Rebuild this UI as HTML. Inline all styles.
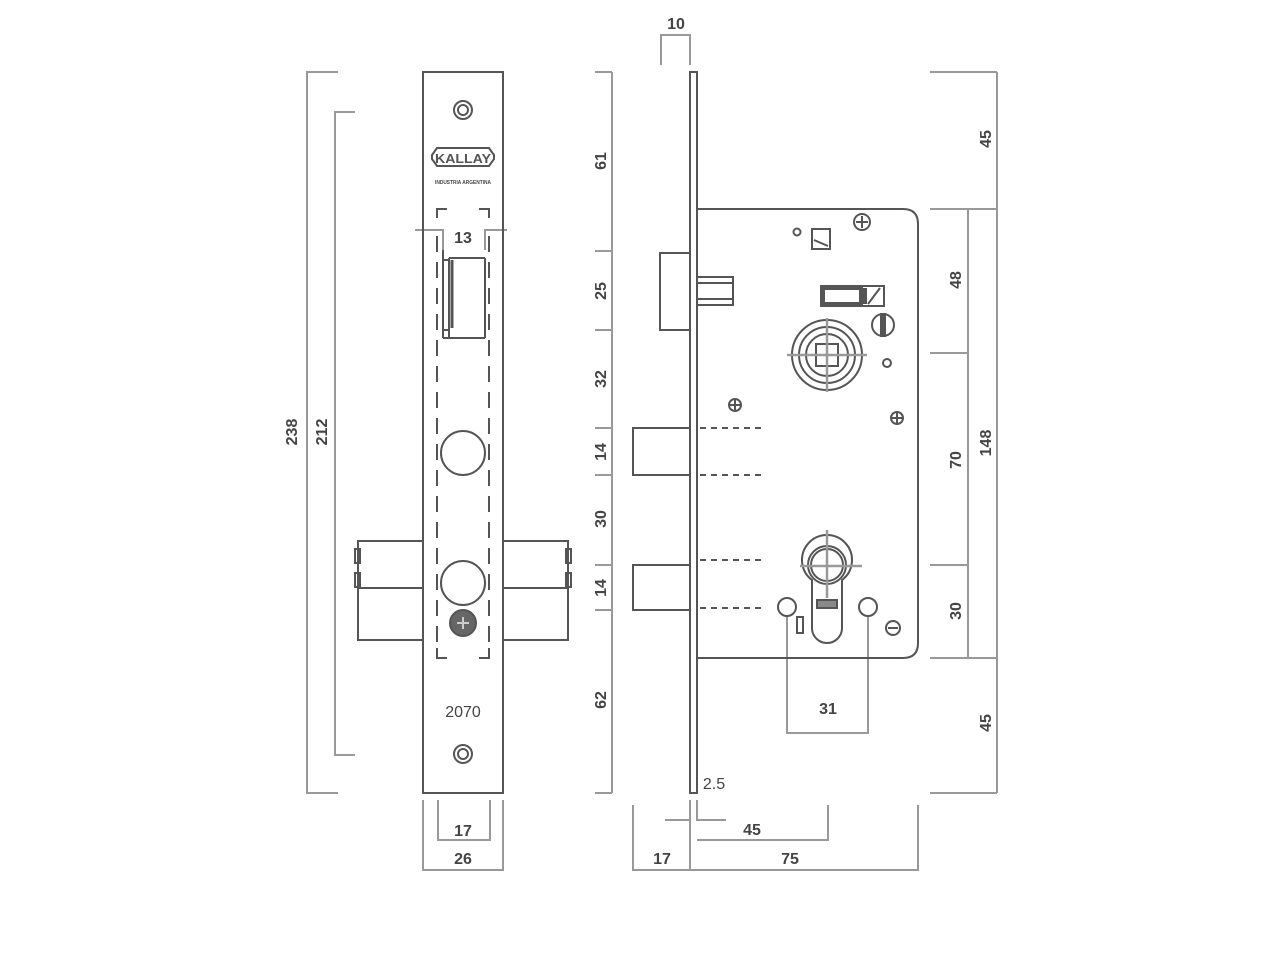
<!DOCTYPE html>
<html><head><meta charset="utf-8"><style>
html,body{margin:0;padding:0;background:#fff;}
svg{display:block;}
text{font-family:"Liberation Sans",sans-serif;font-weight:bold;fill:#444;font-size:16px;}
</style></head><body>
<svg width="1280" height="960" viewBox="0 0 1280 960" xmlns="http://www.w3.org/2000/svg">
<g fill="none" stroke="#999" stroke-width="2">
<polyline points="338,72 307,72 307,793 338,793"/>
<polyline points="355,112 335,112 335,755 355,755"/>
<polyline points="438,800 438,840 490,840 490,800"/>
<polyline points="423,800 423,870 503,870 503,800"/>
<polyline points="415,230 443,230 443,250"/><polyline points="507,230 485,230 485,250"/>
<polyline points="661,65 661,35 690,35 690,65"/>
<line x1="612" y1="72" x2="612" y2="793"/>
<line x1="595" y1="72" x2="612" y2="72"/><line x1="595" y1="251" x2="612" y2="251"/><line x1="595" y1="330" x2="612" y2="330"/><line x1="595" y1="428" x2="612" y2="428"/><line x1="595" y1="475" x2="612" y2="475"/><line x1="595" y1="565" x2="612" y2="565"/><line x1="595" y1="610" x2="612" y2="610"/><line x1="595" y1="793" x2="612" y2="793"/>
<line x1="997" y1="72" x2="997" y2="793"/>
<line x1="930" y1="72" x2="997" y2="72"/><line x1="930" y1="209" x2="997" y2="209"/><line x1="930" y1="658" x2="997" y2="658"/><line x1="930" y1="793" x2="997" y2="793"/>
<line x1="968" y1="209" x2="968" y2="658"/>
<line x1="930" y1="353" x2="968" y2="353"/><line x1="930" y1="565" x2="968" y2="565"/>
<polyline points="697,800 697,820 726,820"/><line x1="665" y1="820" x2="690" y2="820"/>
<polyline points="697,840 828,840 828,805"/>
<line x1="690" y1="800" x2="690" y2="870"/>
<polyline points="633,805 633,870 918,870 918,805"/>
<polyline points="787,616 787,733 868,733 868,616"/>
</g>
<g fill="none" stroke="#555" stroke-width="2">
<rect x="423" y="72" width="80" height="721"/>
<circle cx="463" cy="110" r="9"/><circle cx="463" cy="110" r="5"/>
<circle cx="463" cy="754" r="9"/><circle cx="463" cy="754" r="5"/>
<path d="M432,155 l5,-7 h52 l5,7 v4 l-5,7 h-52 l-5,-7 z"/>
<path d="M437,218 v-9 h10 M479,209 h10 v9" />
<line x1="437" y1="236" x2="437" y2="644" stroke-dasharray="16,10"/>
<line x1="489" y1="236" x2="489" y2="644" stroke-dasharray="16,10"/>
<path d="M437,648 v10 h10 M479,658 h10 v-10"/>
<path d="M443,250 v10 M443,260 h6 v-2 M449,258 v80 M443,338 h42 M449,330 h-6 M443,260 v78 M485,258 v80 M479,258 h6 M449,258 h30"/>
<line x1="452" y1="260" x2="452" y2="328" stroke-width="3"/>
<circle cx="463" cy="453" r="22"/>
<circle cx="463" cy="583" r="22"/>
<circle cx="463" cy="623" r="13" fill="#666"/>
<path d="M457,623h12M463,617v12" stroke="#ccc"/>
<rect x="358" y="541" width="65" height="99"/>
<line x1="358" y1="588" x2="423" y2="588"/>
<rect x="355" y="549" width="5" height="14"/><rect x="355" y="573" width="5" height="14"/>
<rect x="503" y="541" width="65" height="99"/>
<line x1="503" y1="588" x2="568" y2="588"/>
<rect x="566" y="549" width="5" height="14"/><rect x="566" y="573" width="5" height="14"/>
<rect x="690" y="72" width="7" height="721"/>
<path d="M697,209 H903 Q918,209 918,224 V643 Q918,658 903,658 H697"/>
<rect x="660" y="253" width="30" height="77"/>
<rect x="697" y="277" width="36" height="28"/>
<line x1="697" y1="283" x2="733" y2="283"/><line x1="697" y1="299" x2="733" y2="299"/>
<rect x="633" y="428" width="57" height="47"/>
<rect x="633" y="565" width="57" height="45"/>
</g>
<g stroke="#555" stroke-width="2" stroke-dasharray="6,5" fill="none">
<line x1="700" y1="428" x2="765" y2="428"/><line x1="700" y1="475" x2="765" y2="475"/>
<line x1="700" y1="560" x2="765" y2="560"/><line x1="700" y1="608" x2="765" y2="608"/>
</g>
<g fill="none" stroke="#555" stroke-width="2">
<circle cx="797" cy="232" r="3.5"/>
<rect x="812" y="229" width="18" height="20"/><line x1="814" y1="240" x2="828" y2="246"/>
<circle cx="862" cy="222" r="8"/><path d="M856,222h12M862,216v12"/>
<rect x="821" y="286" width="63" height="20"/><rect x="823" y="288" width="38" height="16" fill="#fff" stroke-width="4"/>
<rect x="861" y="288" width="6" height="16" fill="#555" stroke="none"/>
<line x1="868" y1="304" x2="880" y2="288"/>
<circle cx="883" cy="325" r="11"/><rect x="881" y="314" width="4" height="22" fill="#555"/>
<circle cx="887" cy="363" r="4"/>
<circle cx="827" cy="355" r="35"/><circle cx="827" cy="355" r="28"/><circle cx="827" cy="355" r="21"/>
<rect x="816" y="344" width="22" height="22"/>
<circle cx="735" cy="405" r="6"/><path d="M730,405h10M735,400v10"/>
<circle cx="897" cy="418" r="6"/><path d="M892,418h10M897,413v10"/>
<path d="M812,580 A25,25 0 1 1 842,580 V628 A15,15 0 0 1 812,628 Z"/>
<circle cx="827" cy="565" r="19"/><circle cx="827" cy="565" r="16"/>
<circle cx="787" cy="607" r="9"/><circle cx="868" cy="607" r="9"/>
<rect x="797" y="617" width="6" height="16"/>
<circle cx="893" cy="628" r="7"/><path d="M888,628h10"/>
<rect x="817" y="600" width="20" height="8" fill="#888"/>
</g>
<g stroke="#999" stroke-width="2.5">
<line x1="787" y1="355" x2="867" y2="355"/><line x1="827" y1="318" x2="827" y2="392"/>
<line x1="800" y1="566" x2="862" y2="566"/><line x1="827" y1="530" x2="827" y2="598"/>
</g>
<text x="463" y="163" text-anchor="middle" textLength="56" lengthAdjust="spacingAndGlyphs" style="font-size:13px;fill:#555">KALLAY</text>
<text x="463" y="184" text-anchor="middle" textLength="56" lengthAdjust="spacingAndGlyphs" style="font-size:5px">INDUSTRIA ARGENTINA</text>
<text x="463" y="243" text-anchor="middle">13</text>
<text x="463" y="717" text-anchor="middle" style="font-weight:normal">2070</text>
<text x="463" y="836" text-anchor="middle">17</text>
<text x="463" y="864" text-anchor="middle">26</text>
<text x="676" y="29" text-anchor="middle">10</text>
<text x="714" y="789" text-anchor="middle" style="font-weight:normal">2.5</text>
<text x="752" y="835" text-anchor="middle">45</text>
<text x="662" y="864" text-anchor="middle">17</text>
<text x="790" y="864" text-anchor="middle">75</text>
<text x="828" y="714" text-anchor="middle">31</text>
<g text-anchor="middle">
<text transform="translate(297,432) rotate(-90)">238</text>
<text transform="translate(327,432) rotate(-90)">212</text>
<text transform="translate(606,161) rotate(-90)">61</text>
<text transform="translate(606,291) rotate(-90)">25</text>
<text transform="translate(606,379) rotate(-90)">32</text>
<text transform="translate(606,452) rotate(-90)">14</text>
<text transform="translate(606,519) rotate(-90)">30</text>
<text transform="translate(606,588) rotate(-90)">14</text>
<text transform="translate(606,700) rotate(-90)">62</text>
<text transform="translate(991,139) rotate(-90)">45</text>
<text transform="translate(991,723) rotate(-90)">45</text>
<text transform="translate(961,280) rotate(-90)">48</text>
<text transform="translate(961,460) rotate(-90)">70</text>
<text transform="translate(961,611) rotate(-90)">30</text>
<text transform="translate(991,443) rotate(-90)">148</text>
</g>
</svg>
</body></html>
